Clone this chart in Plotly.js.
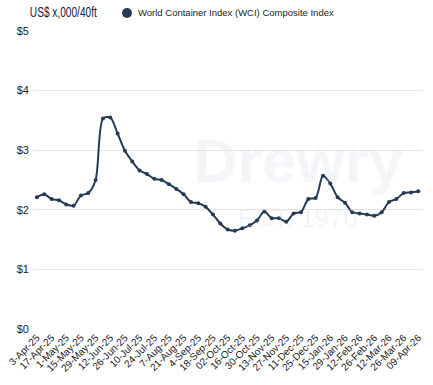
<!DOCTYPE html>
<html>
<head>
<meta charset="utf-8">
<script src="https://cdn.plot.ly/plotly-3.0.1.min.js"></script>
<style>html,body{margin:0;padding:0;background:#fff;}#chart{width:433px;height:385px;}</style>
</head>
<body>
<div id="chart"></div>
<script>
const dates = [
  "3-Apr-25","10-Apr-25","17-Apr-25","24-Apr-25","1-May-25","8-May-25","15-May-25","22-May-25",
  "29-May-25","5-Jun-25","12-Jun-25","19-Jun-25","26-Jun-25","3-Jul-25","10-Jul-25","17-Jul-25",
  "24-Jul-25","31-Jul-25","7-Aug-25","14-Aug-25","21-Aug-25","28-Aug-25","4-Sep-25","11-Sep-25",
  "18-Sep-25","25-Sep-25","02-Oct-25","09-Oct-25","16-Oct-25","23-Oct-25","30-Oct-25","06-Nov-25",
  "13-Nov-25","20-Nov-25","27-Nov-25","04-Dec-25","11-Dec-25","18-Dec-25","25-Dec-25","08-Jan-26",
  "15-Jan-26","22-Jan-26","29-Jan-26","05-Feb-26","12-Feb-26","19-Feb-26","26-Feb-26","05-Mar-26",
  "12-Mar-26","19-Mar-26","26-Mar-26","02-Apr-26","09-Apr-26"
];
const wci = [
  2.21,2.26,2.18,2.16,2.09,2.07,2.24,2.28,
  2.50,3.53,3.55,3.28,2.99,2.81,2.66,2.60,
  2.52,2.50,2.43,2.35,2.26,2.13,2.11,2.05,
  1.92,1.77,1.67,1.65,1.69,1.74,1.82,1.97,
  1.86,1.86,1.80,1.94,1.96,2.18,2.20,2.57,
  2.44,2.21,2.12,1.96,1.94,1.92,1.90,1.96,
  2.13,2.18,2.28,2.29,2.31
];
const seriesName = "World Container Index (WCI) Composite Index";
const unitLabel = "US$ x,000/40ft";
const yTickVals = [0,1,2,3,4,5];
const yTickText = ["$0","$1","$2","$3","$4","$5"];
const xTickVals = dates.filter((d,i)=>i%2===0);

const navy = "#253a54";

const trace = {
  x: dates, y: wci, type: "scatter", mode: "lines+markers", name: seriesName,
  line: {color: navy, width: 2, shape: "spline", smoothing: 0.8},
  marker: {color: navy, size: 4},
  showlegend: false, hoverinfo: "x+y"
};

const layout = {
  width: 433, height: 385,
  margin: {l: 34, r: 11, t: 31, b: 56},
  paper_bgcolor: "#fff", plot_bgcolor: "#fff",
  font: {family: "Liberation Sans, Arial, sans-serif", color: "#333", size: 11},
  xaxis: {
    type: "category", range: [-0.4, 52.5],
    tickmode: "array", tickvals: xTickVals, ticktext: xTickVals,
    tickangle: -45, tickfont: {size: 10, color: "#222"},
    showgrid: false, zeroline: false, showline: false, ticks: "",
    fixedrange: true
  },
  yaxis: {
    range: [0, 5], tickmode: "array", tickvals: yTickVals, ticktext: yTickText,
    tickfont: {size: 11, color: "#222"},
    showgrid: true, gridcolor: "#e6e6e6", gridwidth: 1,
    zeroline: false, showline: false, ticks: "", ticklabelstandoff: 4,
    fixedrange: true
  },
  annotations: [
    {text: unitLabel, xref: "paper", yref: "paper", x: -34/388, y: 1 + 19/298,
     xanchor: "left", yanchor: "middle", showarrow: false, xshift: 15,
     font: {family: "Liberation Sans, Arial, sans-serif", size: 14, color: "#13213f"}},
    {text: seriesName, xref: "paper", yref: "paper", x: (136-34)/388, y: 1 + 18/298,
     xanchor: "left", yanchor: "middle", showarrow: false,
     font: {family: "Liberation Sans, Arial, sans-serif", size: 9.5, color: "#222"}},
    {text: "<b>Drewry</b>", xref: "paper", yref: "paper", x: (298-34)/388, y: (329-160)/298,
     xanchor: "center", yanchor: "middle", showarrow: false,
     font: {family: "Liberation Sans, Arial, sans-serif", size: 62, color: "rgba(200,208,222,0.22)"}},
    {text: "EST. 1970", xref: "paper", yref: "paper", x: (298-34)/388, y: (329-218)/298,
     xanchor: "center", yanchor: "middle", showarrow: false,
     font: {family: "Liberation Sans, Arial, sans-serif", size: 26, color: "rgba(200,208,222,0.22)"}}
  ],
  shapes: [
    {type: "circle", xref: "paper", yref: "paper", layer: "above",
     x0: (122-34)/388, x1: (132-34)/388, y0: 1 + 13/298, y1: 1 + 23/298,
     fillcolor: navy, line: {width: 0}}
  ],
  showlegend: false
};

Plotly.newPlot("chart", [trace], layout, {displayModeBar: false, staticPlot: true}).then(function(gd){
  // condense the unit label to mimic the narrow typeface of the original
  gd.querySelectorAll(".annotation-text").forEach(function(t){
    if (t.textContent === unitLabel) {
      t.setAttribute("textLength", "67");
      t.setAttribute("lengthAdjust", "spacingAndGlyphs");
    }
  });
});
</script>
</body>
</html>
